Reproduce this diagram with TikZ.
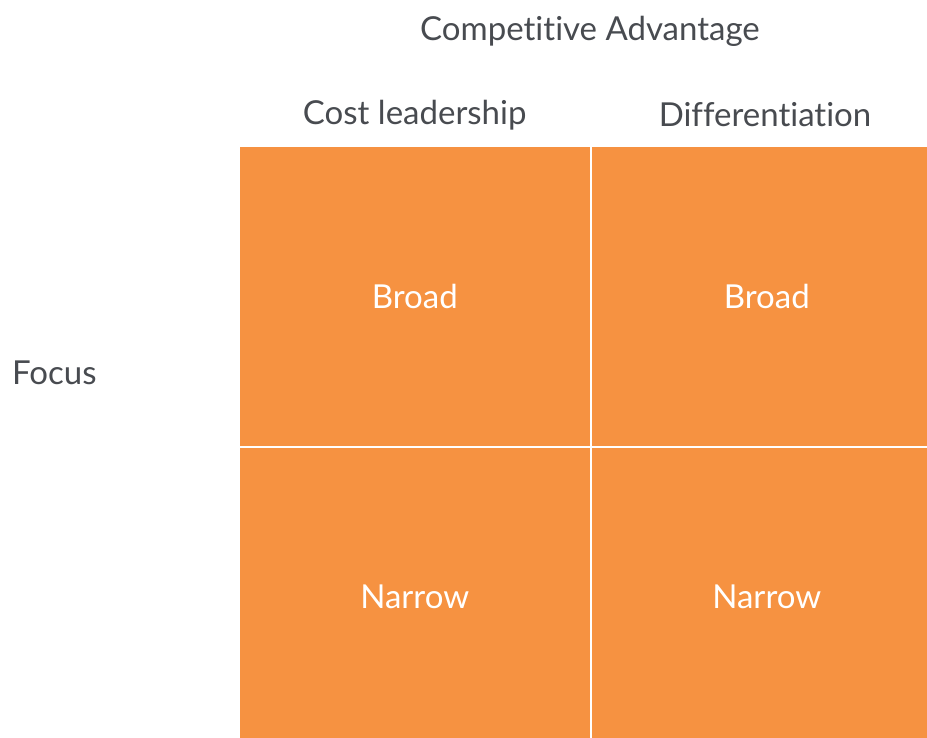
\documentclass[tikz,border=0pt]{standalone}
\usepackage{fontspec}
\setmainfont{Lato}[Ligatures={NoCommon}]
\usetikzlibrary{positioning}

\definecolor{cellorange}{HTML}{F69241}
\definecolor{textgray}{HTML}{484B50}

\begin{document}
\begin{tikzpicture}[
				x=1pt, y=-1pt,
				cell/.style={rectangle, fill=cellorange, inner sep=0pt, minimum width=349.5pt, minimum height=298.5pt, text=white, font=\fontsize{33}{40}\selectfont},
				headtext/.style={text=textgray, font=\fontsize{33}{40}\selectfont}
			]

			\def \dx {352}
			\def \dy {301}

			\useasboundingbox (0, 0) rectangle (927, 737);
			\clip (0, 0) rectangle (927, 737);

			\foreach \j/\kind in {1/Broad, 2/Narrow} {
					\foreach \i in {1, 2} {
							\node[cell] (cell-\j-\i) at (414.75 + \i * \dx - \dx, 296.25 + \j * \dy - \dy) {\kind};
						}
				}

			\node[headtext] (cost) at (414.75, 115) {Cost leadership};
			\node[headtext] (diff) at (765, 115) {Differentiation};
			\node[headtext] (advantage) at (590, 31) {Competitive Advantage};
			\node[headtext, anchor=west, inner sep=0pt] (focus) at (12, 373) {Focus};

		\end{tikzpicture}
\end{document}
